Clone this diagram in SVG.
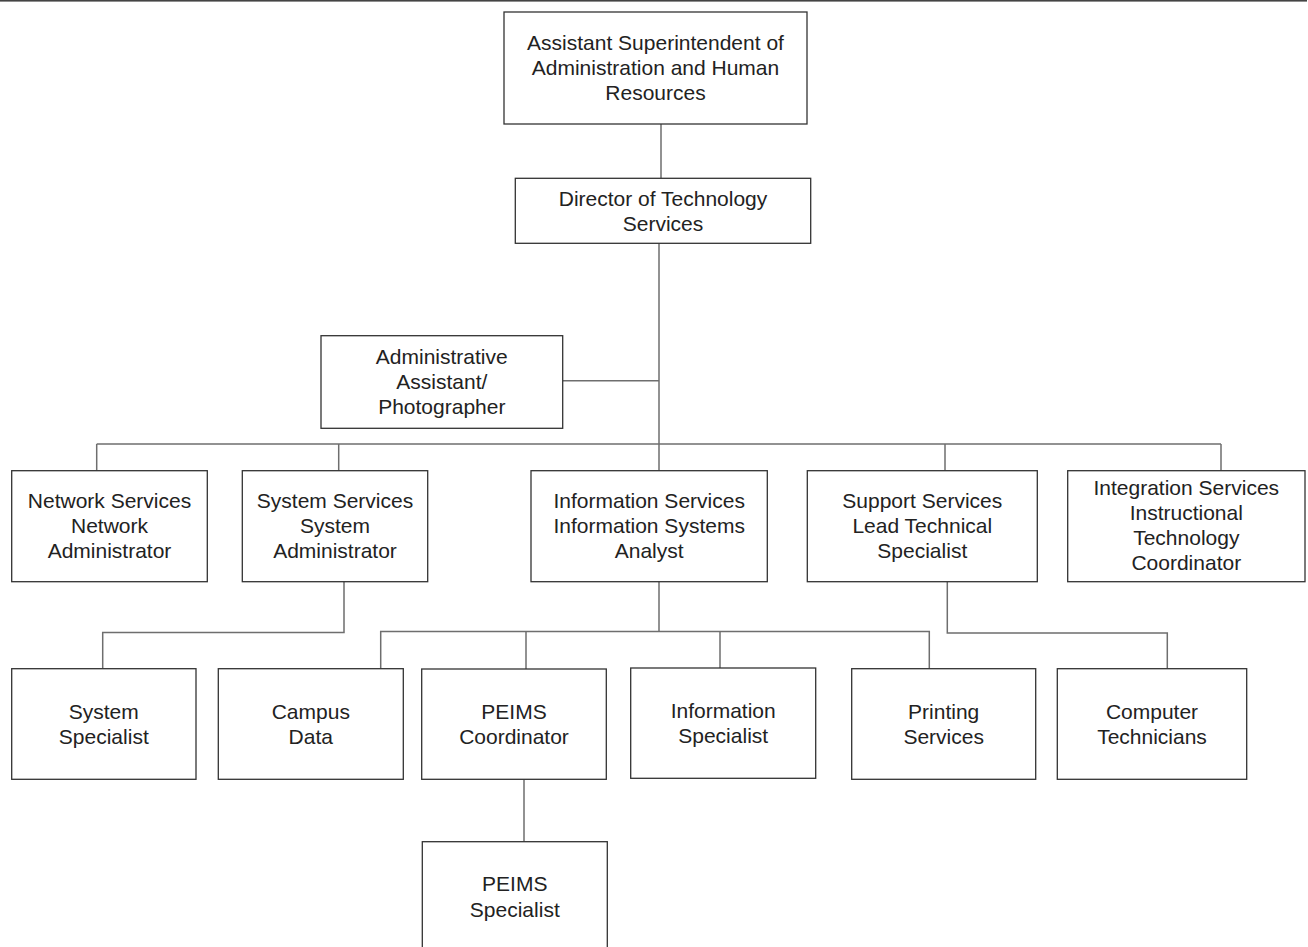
<svg xmlns="http://www.w3.org/2000/svg" width="1308" height="947" viewBox="0 0 1308 947">
  <style>
    .box { fill: #ffffff; stroke: #333333; stroke-width: 1.3; }
    .lbl { font-family: "Liberation Sans", Arial, sans-serif; font-size: 21px; fill: #222222; text-anchor: middle; }
    .wire { fill: none; stroke: #6e6e6e; stroke-width: 1.5; }
  </style>
  <rect width="1308" height="947" fill="#ffffff"/>
  <!-- page rule -->
  <rect x="0" y="0" width="1307" height="1.6" fill="#444444"/>

  <g id="connectors">
    <path class="wire" d="M661 124 V178"/>
    <path class="wire" d="M659 243 V470.7"/>
    <path class="wire" d="M562.7 380.7 H659"/>
    <path class="wire" d="M96.7 444 H1221"/>
    <path class="wire" d="M96.7 444 V470.7"/>
    <path class="wire" d="M338.7 444 V470.7"/>
    <path class="wire" d="M945 444 V470.7"/>
    <path class="wire" d="M1221 444 V470.7"/>
    <path class="wire" d="M344 581.7 V632.5 H102.7 V668.7"/>
    <path class="wire" d="M659 581.7 V631.5"/>
    <path class="wire" d="M380.7 668.7 V631.5 H929.3 V668.7"/>
    <path class="wire" d="M526 631.5 V669"/>
    <path class="wire" d="M720 631.5 V668"/>
    <path class="wire" d="M947.3 581.7 V633 H1167.3 V668.7"/>
    <path class="wire" d="M524 779.3 V841.7"/>
  </g>

  <g id="asst-superintendent">
    <rect class="box" x="504" y="12" width="303" height="112"/>
    <text class="lbl" x="655.5" y="50">Assistant Superintendent of</text>
    <text class="lbl" x="655.5" y="75">Administration and Human</text>
    <text class="lbl" x="655.5" y="100">Resources</text>
  </g>

  <g id="director">
    <rect class="box" x="515.3" y="178.3" width="295.4" height="65"/>
    <text class="lbl" x="663" y="205.5">Director of Technology</text>
    <text class="lbl" x="663" y="230.5">Services</text>
  </g>

  <g id="admin-assistant">
    <rect class="box" x="321" y="335.7" width="241.7" height="92.6"/>
    <text class="lbl" x="441.8" y="364">Administrative</text>
    <text class="lbl" x="441.8" y="389">Assistant/</text>
    <text class="lbl" x="441.8" y="414">Photographer</text>
  </g>

  <g id="network-services">
    <rect class="box" x="11.7" y="470.7" width="195.6" height="111"/>
    <text class="lbl" x="109.5" y="508">Network Services</text>
    <text class="lbl" x="109.5" y="533">Network</text>
    <text class="lbl" x="109.5" y="558">Administrator</text>
  </g>

  <g id="system-services">
    <rect class="box" x="242.3" y="470.7" width="185.4" height="111"/>
    <text class="lbl" x="335" y="508">System Services</text>
    <text class="lbl" x="335" y="533">System</text>
    <text class="lbl" x="335" y="558">Administrator</text>
  </g>

  <g id="information-services">
    <rect class="box" x="531" y="470.7" width="236.3" height="111"/>
    <text class="lbl" x="649.2" y="507.5">Information Services</text>
    <text class="lbl" x="649.2" y="532.5">Information Systems</text>
    <text class="lbl" x="649.2" y="557.5">Analyst</text>
  </g>

  <g id="support-services">
    <rect class="box" x="807.3" y="470.7" width="230" height="111"/>
    <text class="lbl" x="922.3" y="507.5">Support Services</text>
    <text class="lbl" x="922.3" y="532.5">Lead Technical</text>
    <text class="lbl" x="922.3" y="557.5">Specialist</text>
  </g>

  <g id="integration-services">
    <rect class="box" x="1067.7" y="470.7" width="237.3" height="111"/>
    <text class="lbl" x="1186.3" y="495">Integration Services</text>
    <text class="lbl" x="1186.3" y="520">Instructional</text>
    <text class="lbl" x="1186.3" y="545">Technology</text>
    <text class="lbl" x="1186.3" y="570">Coordinator</text>
  </g>

  <g id="system-specialist">
    <rect class="box" x="11.7" y="668.7" width="184.3" height="110.6"/>
    <text class="lbl" x="103.8" y="719.3">System</text>
    <text class="lbl" x="103.8" y="744">Specialist</text>
  </g>

  <g id="campus-data">
    <rect class="box" x="218.3" y="668.7" width="185" height="110.6"/>
    <text class="lbl" x="310.8" y="719.3">Campus</text>
    <text class="lbl" x="310.8" y="744">Data</text>
  </g>

  <g id="peims-coordinator">
    <rect class="box" x="421.7" y="669" width="184.6" height="110.3"/>
    <text class="lbl" x="514" y="719">PEIMS</text>
    <text class="lbl" x="514" y="744">Coordinator</text>
  </g>

  <g id="information-specialist">
    <rect class="box" x="630.7" y="668" width="185" height="110.3"/>
    <text class="lbl" x="723.2" y="718">Information</text>
    <text class="lbl" x="723.2" y="743.3">Specialist</text>
  </g>

  <g id="printing-services">
    <rect class="box" x="851.7" y="668.7" width="184" height="110.6"/>
    <text class="lbl" x="943.7" y="719.3">Printing</text>
    <text class="lbl" x="943.7" y="744">Services</text>
  </g>

  <g id="computer-technicians">
    <rect class="box" x="1057.3" y="668.7" width="189.4" height="110.6"/>
    <text class="lbl" x="1152" y="719.3">Computer</text>
    <text class="lbl" x="1152" y="744">Technicians</text>
  </g>

  <g id="peims-specialist">
    <rect class="box" x="422.3" y="841.7" width="185" height="120"/>
    <text class="lbl" x="514.8" y="890.7">PEIMS</text>
    <text class="lbl" x="514.8" y="916.7">Specialist</text>
  </g>
</svg>
